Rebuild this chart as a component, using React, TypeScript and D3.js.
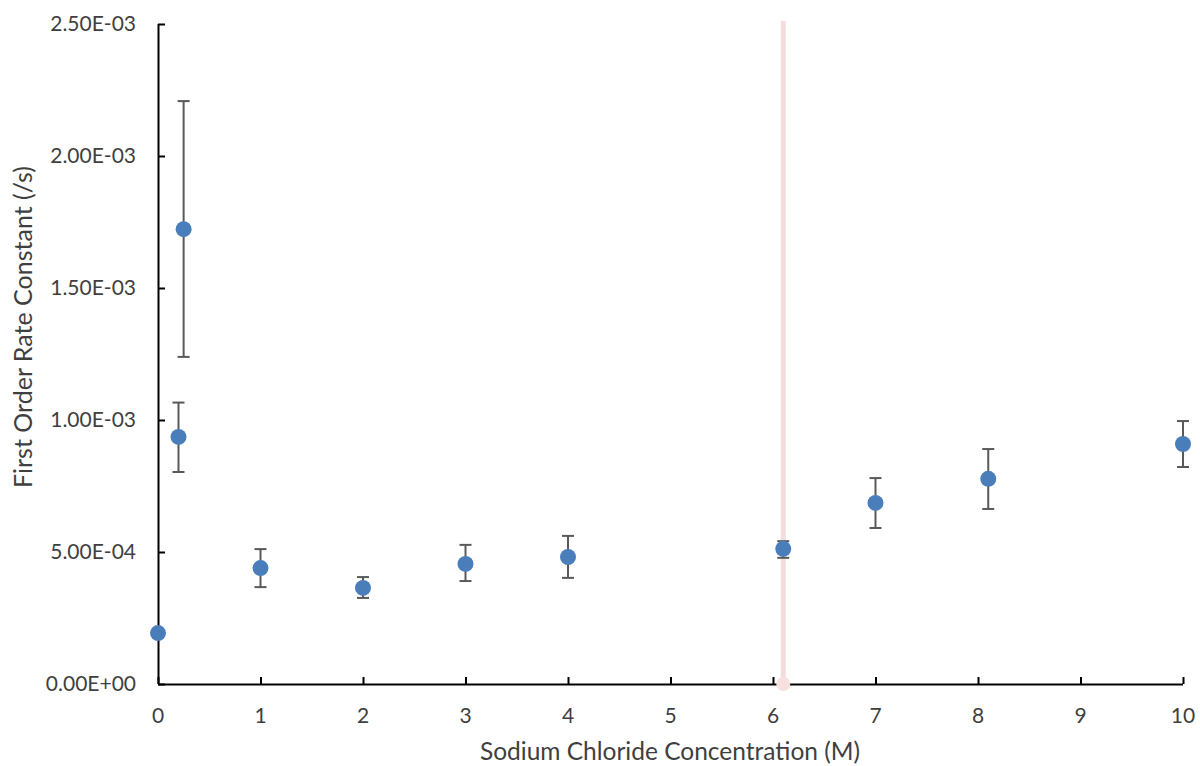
import React, { useEffect, useRef } from 'react';
import * as d3 from 'd3';

// NaCl concentration (M)
const concentrations = [0, 0.2, 0.25, 1, 2, 3, 4, 6.1, 7, 8.1, 10];
// first order rate constant (/s)
const rateConstants = [
  1.93e-4, 9.36e-4, 1.723e-3, 4.39e-4, 3.64e-4, 4.55e-4, 4.81e-4, 5.12e-4, 6.86e-4, 7.77e-4, 9.09e-4,
];
const errUpper = [0, 1.3e-4, 4.85e-4, 7.2e-5, 4.1e-5, 7.2e-5, 8.0e-5, 2.9e-5, 9.4e-5, 1.13e-4, 8.7e-5];
const errLower = [0, 1.33e-4, 4.84e-4, 7.2e-5, 3.8e-5, 6.5e-5, 7.9e-5, 3.4e-5, 9.5e-5, 1.14e-4, 8.7e-5];

const xTicks = [0, 1, 2, 3, 4, 5, 6, 7, 8, 9, 10];
const yTicks = [0, 5e-4, 1e-3, 1.5e-3, 2e-3, 2.5e-3];

// vertical marker line
const markerX = 6.1;

const FONT = 'Lato, "Open Sans", sans-serif';

const App = () => {
  const chartRef = useRef<SVGSVGElement>(null);

  useEffect(() => {
    const margin = { top: 24, right: 17, bottom: 82, left: 158 };
    const width = 1200 - margin.left - margin.right;
    const height = 766 - margin.top - margin.bottom;

    const svg = d3.select(chartRef.current);
    svg.selectAll('*').remove();

    const chart = svg.append('g').attr('transform', `translate(${margin.left},${margin.top})`);

    const xScale = d3.scaleLinear().domain([0, 10]).range([0, width]);
    const yScale = d3.scaleLinear().domain([0, 2.5e-3]).range([height, 0]);

    // pink marker line
    chart
      .append('line')
      .attr('x1', xScale(markerX))
      .attr('x2', xScale(markerX))
      .attr('y1', yScale(0))
      .attr('y2', yScale(2.5e-3) - 3)
      .attr('stroke', '#f2dcdc')
      .attr('stroke-width', 5);

    // y axis
    const yAxis = chart
      .append('g')
      .call(d3.axisRight(yScale).tickValues(yTicks).tickSize(7).tickFormat(() => ''));
    yAxis.select('.domain').attr('stroke', '#000').attr('stroke-width', 2).attr('d', `M0.5,${height}V0`);
    yAxis.selectAll('.tick line').attr('stroke', '#000').attr('stroke-width', 2);

    chart
      .append('g')
      .selectAll('text')
      .data(yTicks)
      .enter()
      .append('text')
      .attr('x', -22)
      .attr('y', (d) => yScale(d))
      .attr('dy', '0.35em')
      .attr('text-anchor', 'end')
      .attr('font-family', FONT)
      .attr('font-size', 21)
      .attr('fill', '#3f3f3f')
      .text((d) => {
        const s = d3.format('.2e')(d).toUpperCase();
        const [m, e] = s.split('E');
        const sign = e[0] === '-' ? '-' : '+';
        const digits = e.replace(/[+-]/, '').padStart(2, '0');
        return `${m}E${sign}${digits}`;
      });

    // x axis
    const xAxis = chart
      .append('g')
      .attr('transform', `translate(0,${height})`)
      .call(d3.axisTop(xScale).tickValues(xTicks).tickSize(7).tickFormat(() => ''));
    xAxis.select('.domain').attr('stroke', '#000').attr('stroke-width', 2).attr('d', `M0,0.5H${width}`);
    xAxis.selectAll('.tick line').attr('stroke', '#000').attr('stroke-width', 2);

    chart
      .append('g')
      .selectAll('text')
      .data(xTicks)
      .enter()
      .append('text')
      .attr('x', (d) => xScale(d))
      .attr('y', height + 39)
      .attr('text-anchor', 'middle')
      .attr('font-family', FONT)
      .attr('font-size', 21)
      .attr('fill', '#3f3f3f')
      .text((d) => d);

    // marker dot at bottom of pink line
    chart
      .append('circle')
      .attr('cx', xScale(markerX))
      .attr('cy', yScale(0))
      .attr('r', 7)
      .attr('fill', '#f7e0e0');

    // error bars
    const pts = concentrations.map((c, i) => ({
      x: c,
      y: rateConstants[i],
      hi: rateConstants[i] + errUpper[i],
      lo: rateConstants[i] - errLower[i],
    }));

    const bars = chart.append('g').selectAll('g').data(pts.filter((p) => p.hi > p.y)).enter().append('g');
    bars
      .append('line')
      .attr('x1', (d) => xScale(d.x))
      .attr('x2', (d) => xScale(d.x))
      .attr('y1', (d) => yScale(d.hi))
      .attr('y2', (d) => yScale(d.lo))
      .attr('stroke', '#595959')
      .attr('stroke-width', 2);
    bars
      .selectAll('.cap')
      .data((d) => [
        { x: d.x, v: d.hi },
        { x: d.x, v: d.lo },
      ])
      .enter()
      .append('line')
      .attr('x1', (d) => xScale(d.x) - 6)
      .attr('x2', (d) => xScale(d.x) + 6)
      .attr('y1', (d) => yScale(d.v))
      .attr('y2', (d) => yScale(d.v))
      .attr('stroke', '#595959')
      .attr('stroke-width', 2);

    // points
    chart
      .append('g')
      .selectAll('circle')
      .data(pts)
      .enter()
      .append('circle')
      .attr('cx', (d) => xScale(d.x))
      .attr('cy', (d) => yScale(d.y))
      .attr('r', 8)
      .attr('fill', '#4a7ebb');

    // axis titles
    svg
      .append('text')
      .attr('x', 670)
      .attr('y', 760)
      .attr('text-anchor', 'middle')
      .attr('font-family', FONT)
      .attr('font-size', 24.5)
      .attr('fill', '#3f3f3f')
      .text('Sodium Chloride Concentration (M)');

    svg
      .append('text')
      .attr('transform', `translate(32,327) rotate(-90)`)
      .attr('text-anchor', 'middle')
      .attr('font-family', FONT)
      .attr('font-size', 25)
      .attr('fill', '#3f3f3f')
      .text('First Order Rate Constant (/s)');
  }, []);

  return (
    <svg
      ref={chartRef}
      width={1200}
      height={766}
      style={{ position: 'absolute', left: 0, top: 0, background: '#fff' }}
    ></svg>
  );
};

export default App;
